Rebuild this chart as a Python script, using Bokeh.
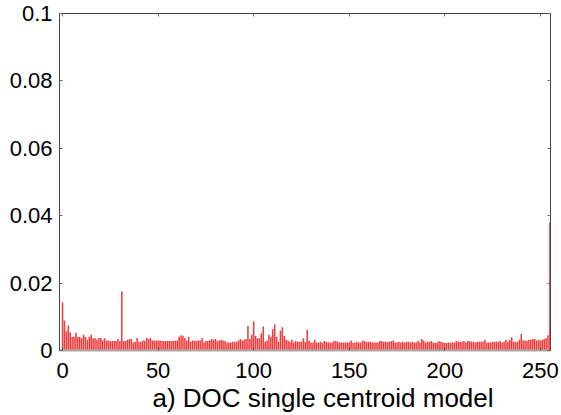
from bokeh.plotting import figure
from bokeh.models import LinearAxis, FixedTicker, Range1d, ColumnDataSource, Title
from bokeh.embed import file_html
from bokeh.resources import INLINE

# ---- data -------------------------------------------------------------
values_000_127 = [
    0.0143, 0.0089, 0.0057, 0.0074, 0.0054, 0.0040, 0.0041, 0.0053, 0.0041, 0.0040, 0.0036, 0.0047, 0.0041, 0.0032, 0.0041, 0.0047,
    0.0036, 0.0036, 0.0032, 0.0037, 0.0037, 0.0030, 0.0036, 0.0030, 0.0030, 0.0028, 0.0028, 0.0028, 0.0028, 0.0034, 0.0028, 0.0175,
    0.0028, 0.0028, 0.0032, 0.0034, 0.0034, 0.0024, 0.0026, 0.0037, 0.0026, 0.0026, 0.0030, 0.0028, 0.0037, 0.0034, 0.0037, 0.0030,
    0.0030, 0.0030, 0.0030, 0.0030, 0.0028, 0.0028, 0.0028, 0.0028, 0.0028, 0.0028, 0.0028, 0.0030, 0.0030, 0.0041, 0.0045, 0.0044,
    0.0037, 0.0030, 0.0041, 0.0026, 0.0030, 0.0030, 0.0028, 0.0030, 0.0030, 0.0037, 0.0024, 0.0028, 0.0028, 0.0030, 0.0034, 0.0032,
    0.0034, 0.0028, 0.0030, 0.0032, 0.0030, 0.0028, 0.0024, 0.0024, 0.0024, 0.0026, 0.0026, 0.0026, 0.0030, 0.0034, 0.0030, 0.0032,
    0.0034, 0.0073, 0.0034, 0.0047, 0.0087, 0.0043, 0.0036, 0.0036, 0.0051, 0.0071, 0.0026, 0.0030, 0.0047, 0.0041, 0.0063, 0.0077,
    0.0041, 0.0026, 0.0059, 0.0069, 0.0043, 0.0032, 0.0030, 0.0026, 0.0032, 0.0024, 0.0028, 0.0026, 0.0026, 0.0026, 0.0036, 0.0026,
]
values_128_193 = [
    0.0061, 0.0030, 0.0024, 0.0024, 0.0032, 0.0024, 0.0024, 0.0026, 0.0022, 0.0028, 0.0026, 0.0024, 0.0024, 0.0024, 0.0028, 0.0028,
    0.0026, 0.0024, 0.0024, 0.0024, 0.0024, 0.0024, 0.0024, 0.0030, 0.0022, 0.0024, 0.0026, 0.0024, 0.0024, 0.0030, 0.0028, 0.0026,
    0.0026, 0.0026, 0.0024, 0.0024, 0.0024, 0.0024, 0.0028, 0.0028, 0.0026, 0.0026, 0.0026, 0.0026, 0.0028, 0.0030, 0.0024, 0.0024,
    0.0026, 0.0024, 0.0026, 0.0024, 0.0026, 0.0026, 0.0024, 0.0026, 0.0024, 0.0024, 0.0028, 0.0024, 0.0034, 0.0030, 0.0024, 0.0026,
    0.0026, 0.0028,
]
values_194_255 = [
    0.0024, 0.0022, 0.0024, 0.0028, 0.0026, 0.0024, 0.0022, 0.0022, 0.0024, 0.0022, 0.0024, 0.0024, 0.0028, 0.0026, 0.0026, 0.0026,
    0.0028, 0.0024, 0.0028, 0.0028, 0.0026, 0.0026, 0.0024, 0.0026, 0.0026, 0.0026, 0.0026, 0.0032, 0.0024, 0.0024, 0.0024, 0.0026,
    0.0026, 0.0026, 0.0026, 0.0028, 0.0024, 0.0026, 0.0032, 0.0026, 0.0032, 0.0039, 0.0026, 0.0026, 0.0026, 0.0032, 0.0049, 0.0030,
    0.0030, 0.0028, 0.0032, 0.0032, 0.0034, 0.0034, 0.0030, 0.0032, 0.0030, 0.0032, 0.0034, 0.0036, 0.0045, 0.0380,
]
values = values_000_127 + values_128_193 + values_194_255
index = list(range(len(values)))

x_ticks = [0, 50, 100, 150, 200, 250]
y_ticks = [0, 0.02, 0.04, 0.06, 0.08, 0.1]
y_tick_labels = ["0", "0.02", "0.04", "0.06", "0.08", "0.1"]
title_text = "a) DOC single centroid model"

X_START, X_END = -1.6, 255.3

# ---- figure -------------------------------------------------------------
FONT = "Liberation Sans"
p = figure(width=561, height=415, output_backend="svg", toolbar_location=None,
           x_range=Range1d(X_START, X_END), y_range=Range1d(0, 0.1),
           min_border_left=59, min_border_right=11, min_border_top=13, min_border_bottom=65)
p.background_fill_color = "white"
p.border_fill_color = "white"
p.outline_line_color = "#444444"
p.outline_line_width = 1
p.grid.visible = False

src = ColumnDataSource(dict(x=index, top=values))
p.vbar(x="x", top="top", width=0.8, bottom=0, source=src,
       fill_color="#f03c3c", line_color=None)

ax = p.xaxis[0]
ax.ticker = FixedTicker(ticks=x_ticks)
ax.major_label_text_font = FONT
ax.major_label_text_font_size = "22px"
ax.major_label_text_color = "black"
ax.major_label_standoff = 12
ax.axis_line_color = "#aaaaaa"
ax.axis_line_width = 2
ax.major_tick_in = 3
ax.major_tick_out = 0
ax.major_tick_line_color = "#444444"
ax.minor_tick_line_color = None

# caption below the axis, slightly right of centre as in the reference
cap = Title(text=title_text, align="left", offset=93, standoff=0,
            text_font=FONT, text_font_size="26px", text_font_style="normal",
            text_color="black")
p.add_layout(cap, "below")

ay = p.yaxis[0]
ay.ticker = FixedTicker(ticks=y_ticks)
ay.major_label_overrides = {t: l for t, l in zip(y_ticks, y_tick_labels)}
ay.major_label_text_font = FONT
ay.major_label_text_font_size = "22px"
ay.major_label_text_color = "black"
ay.major_label_standoff = 7
ay.axis_line_color = "#444444"
ay.major_tick_in = 3
ay.major_tick_out = 0
ay.major_tick_line_color = "#666666"
ay.minor_tick_line_color = None

# box ticks on top and right
for side, tks in (("above", x_ticks), ("right", y_ticks)):
    a = LinearAxis(ticker=FixedTicker(ticks=tks))
    a.major_label_overrides = {t: "" for t in tks}
    a.major_label_standoff = 0
    a.major_tick_in = 3
    a.major_tick_out = 0
    a.major_tick_line_color = "#666666"
    a.minor_tick_line_color = None
    a.axis_line_color = "#444444"
    p.add_layout(a, side)

open("out.html", "w").write(file_html(p, INLINE))
